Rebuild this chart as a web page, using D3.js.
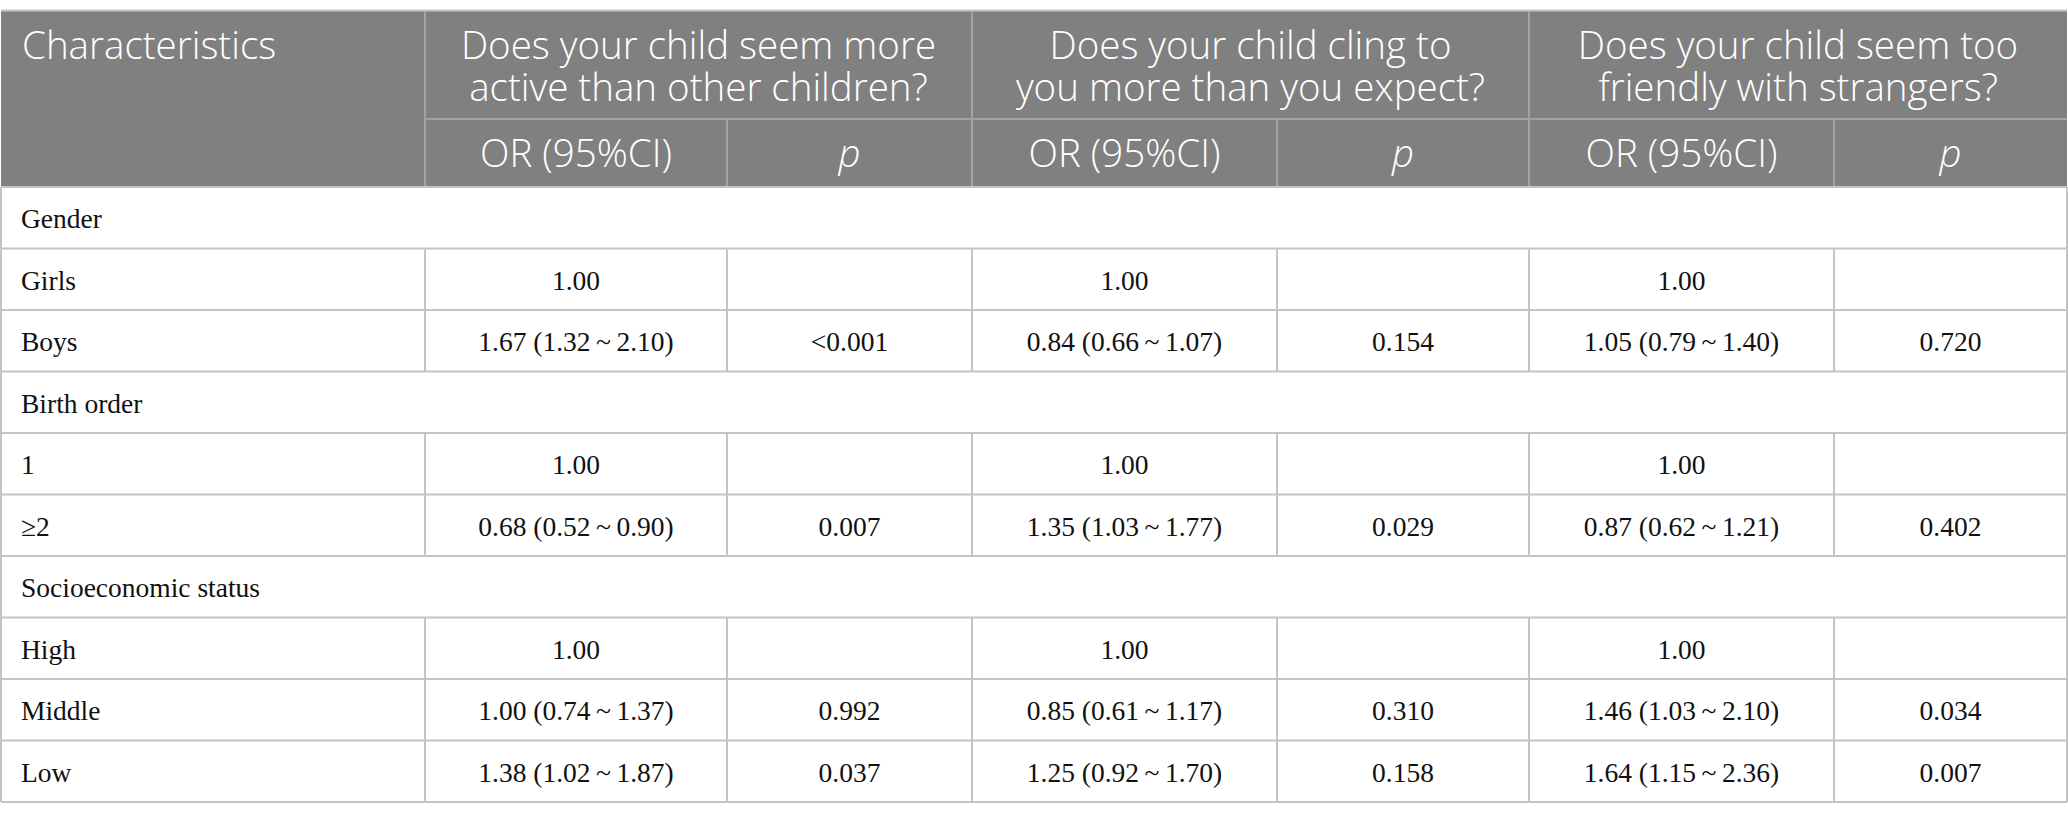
<!DOCTYPE html>
<html><head><meta charset="utf-8">
<script src="https://cdn.jsdelivr.net/npm/d3@7"></script>
<style>body{margin:0;background:#fff}
.q{font-family:'Open Sans',sans-serif;font-weight:300;font-size:38.5px;line-height:42px;color:#fff;text-align:center;margin:0;padding:0;white-space:pre-line}
</style></head>
<body><svg id="c" width="2068" height="820"></svg>
<script>
// ---- data ----
const firstHeader = "Characteristics";
const questions = [
  ["Does your child seem more", "active than other children?"],
  ["Does your child cling to", "you more than you expect?"],
  ["Does your child seem too", "friendly with strangers?"]
];
const subHeaders = ["OR (95%CI)", "p"];
const rowLabels = ["Gender","Girls","Boys","Birth order","1","\u22652","Socioeconomic status","High","Middle","Low"];
const groupRows = [true,false,false,true,false,false,true,false,false,false];
const orActive   = ["","1.00","1.67 (1.32\u2009~\u20092.10)","","1.00","0.68 (0.52\u2009~\u20090.90)","","1.00","1.00 (0.74\u2009~\u20091.37)","1.38 (1.02\u2009~\u20091.87)"];
const pActive    = ["","","<0.001","","","0.007","","","0.992","0.037"];
const orCling    = ["","1.00","0.84 (0.66\u2009~\u20091.07)","","1.00","1.35 (1.03\u2009~\u20091.77)","","1.00","0.85 (0.61\u2009~\u20091.17)","1.25 (0.92\u2009~\u20091.70)"];
const pCling     = ["","","0.154","","","0.029","","","0.310","0.158"];
const orFriendly = ["","1.00","1.05 (0.79\u2009~\u20091.40)","","1.00","0.87 (0.62\u2009~\u20091.21)","","1.00","1.46 (1.03\u2009~\u20092.10)","1.64 (1.15\u2009~\u20092.36)"];
const pFriendly  = ["","","0.720","","","0.402","","","0.034","0.007"];

// ---- layout ----
const colEdges = [1, 425, 727, 972, 1277, 1529, 1834, 2067];
const headTop = 10.5, headMid = 119, headBot = 187, tableBot = 802;
const headerBg = "#808080", headerLine = "#a3a3a3", bodyLine = "#c4c4c4";
const sansFont = "'Open Sans', sans-serif", serifFont = "'Liberation Serif', serif";

const svg = d3.select("#c");
const y = d3.scaleBand().domain(d3.range(rowLabels.length)).range([headBot, tableBot]);
const cols = [orActive, pActive, orCling, pCling, orFriendly, pFriendly];

// header background
svg.append("rect").attr("x", colEdges[0]).attr("y", headTop)
  .attr("width", colEdges[7]-colEdges[0]).attr("height", headBot-headTop).attr("fill", headerBg);
const hl = svg.append("g").attr("stroke", headerLine).attr("stroke-width", 2);
hl.append("line").attr("x1", colEdges[1]).attr("x2", colEdges[7]).attr("y1", headMid).attr("y2", headMid);
[1,3,5].forEach(i => hl.append("line").attr("x1", colEdges[i]).attr("x2", colEdges[i]).attr("y1", headTop).attr("y2", headBot));
[2,4,6].forEach(i => hl.append("line").attr("x1", colEdges[i]).attr("x2", colEdges[i]).attr("y1", headMid).attr("y2", headBot));
svg.append("line").attr("x1", colEdges[0]).attr("x2", colEdges[7]).attr("y1", headTop).attr("y2", headTop)
  .attr("stroke", bodyLine).attr("stroke-width", 2);

// header text
const ht = svg.append("g").attr("fill", "#fff").attr("font-family", sansFont).attr("font-weight", 300).attr("font-size", 38.5);
ht.append("text").attr("x", 22).attr("y", 59).text(firstHeader);
questions.forEach((q, i) => {
  const x0 = colEdges[1+2*i], x1 = colEdges[3+2*i];
  svg.append("foreignObject").attr("x", x0).attr("y", 23).attr("width", x1 - x0).attr("height", 88)
    .append("xhtml:div").attr("class", "q").text(q.join("\n"));
  subHeaders.forEach((s, k) => {
    const sx = (colEdges[1+2*i+k] + colEdges[2+2*i+k]) / 2;
    ht.append("text").attr("x", sx).attr("y", 167).attr("text-anchor", "middle")
      .attr("font-style", k === 1 ? "italic" : "normal").text(s);
  });
});

// body lines
const bl = svg.append("g").attr("stroke", bodyLine).attr("stroke-width", 2);
d3.range(rowLabels.length + 1).forEach(i => {
  const yy = i < rowLabels.length ? y(i) : tableBot;
  bl.append("line").attr("x1", colEdges[0]).attr("x2", colEdges[7]).attr("y1", yy).attr("y2", yy);
});
rowLabels.forEach((r, i) => {
  const edges = groupRows[i] ? [0, 7] : d3.range(8);
  edges.forEach(e => bl.append("line").attr("x1", colEdges[e]).attr("x2", colEdges[e])
    .attr("y1", y(i)).attr("y2", y(i) + y.bandwidth()));
});

// body text
const bt = svg.append("g").attr("fill", "#111").attr("font-family", serifFont).attr("font-size", 27.5);
rowLabels.forEach((r, i) => {
  const cy = y(i) + y.bandwidth()/2;
  bt.append("text").attr("x", 21).attr("y", cy).attr("dy", "0.39em").text(r);
  cols.forEach((c, k) => {
    if (!c[i]) return;
    const sx = (colEdges[1+k] + colEdges[2+k]) / 2;
    bt.append("text").attr("x", sx).attr("y", cy).attr("dy", "0.39em").attr("text-anchor", "middle").text(c[i]);
  });
});
</script></body></html>
